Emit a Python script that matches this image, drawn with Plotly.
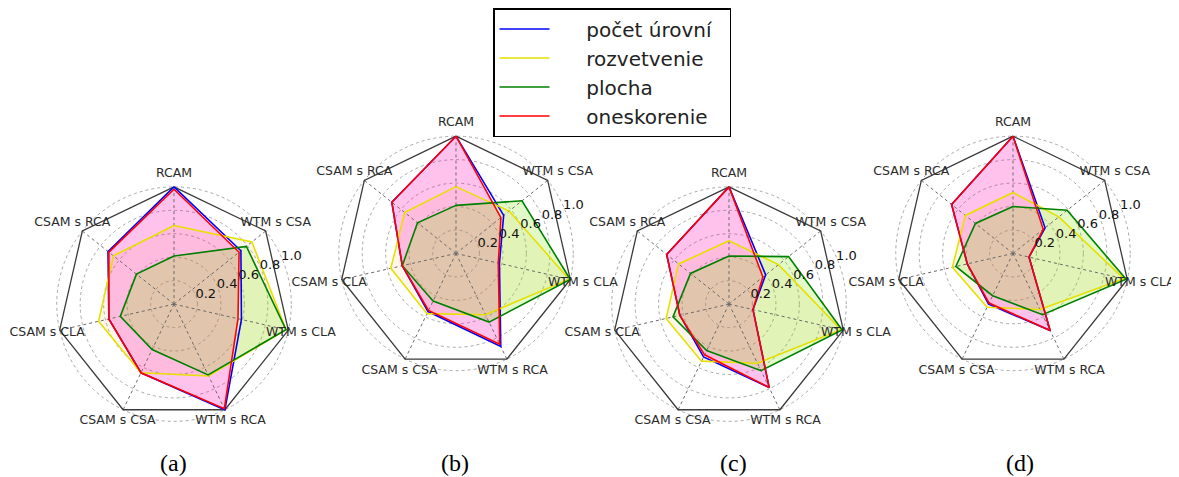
import plotly.graph_objects as go

W, H = 1179, 477
OFF = 8  # page body margin of the html page
FW, FH = W - OFF, H - OFF

categories = ["RCAM", "WTM s CSA", "WTM s CLA", "WTM s RCA", "CSAM s CSA", "CSAM s CLA", "CSAM s RCA"]
series_names = ["počet úrovní", "rozvetvenie", "plocha", "oneskorenie"]
panel_labels = ["(a)", "(b)", "(c)", "(d)"]
radial_ticks = [0.2, 0.4, 0.6, 0.8, 1.0]
radial_ticktext = ["0.2", "0.4", "0.6", "0.8", "1.0"]

# values per panel, order of categories above
a_pocet = [1.00, 0.73, 0.59, 1.00, 0.65, 0.57, 0.72]
a_rozv = [0.67, 0.85, 0.98, 0.68, 0.65, 0.66, 0.66]
a_plocha = [0.41, 0.79, 0.98, 0.67, 0.43, 0.47, 0.41]
a_onesk = [0.98, 0.71, 0.56, 0.99, 0.65, 0.57, 0.71]

b_pocet = [1.00, 0.52, 0.38, 0.88, 0.55, 0.47, 0.70]
b_rozv = [0.57, 0.58, 0.99, 0.58, 0.57, 0.57, 0.56]
b_plocha = [0.41, 0.72, 1.00, 0.65, 0.45, 0.47, 0.42]
b_onesk = [1.00, 0.49, 0.37, 0.86, 0.54, 0.47, 0.70]

c_pocet = [1.00, 0.40, 0.21, 0.79, 0.50, 0.43, 0.68]
c_rozv = [0.54, 0.54, 0.98, 0.56, 0.54, 0.55, 0.55]
c_plocha = [0.41, 0.65, 0.99, 0.63, 0.44, 0.49, 0.42]
c_onesk = [1.00, 0.37, 0.21, 0.79, 0.48, 0.43, 0.68]

d_pocet = [1.00, 0.35, 0.14, 0.73, 0.48, 0.40, 0.67]
d_rozv = [0.52, 0.50, 0.97, 0.53, 0.51, 0.53, 0.52]
d_plocha = [0.40, 0.59, 0.99, 0.58, 0.40, 0.50, 0.41]
d_onesk = [1.00, 0.33, 0.14, 0.73, 0.47, 0.40, 0.67]

panels = [
    [a_pocet, a_rozv, a_plocha, a_onesk],
    [b_pocet, b_rozv, b_plocha, b_onesk],
    [c_pocet, c_rozv, c_plocha, c_onesk],
    [d_pocet, d_rozv, d_plocha, d_onesk],
]

RMAX = 1.0
LABEL_R = 1.11
RLABEL_ANGLE = 24  # degrees, direction of radial tick labels

line_colors = ["#0000ff", "#e6e000", "#008000", "#ff0000"]
fill_colors = [None, "rgba(255,170,60,0.10)", "rgba(120,230,0,0.22)", "rgba(255,0,180,0.24)"]
fill_order = [1, 3, 2]  # yellow bottom, red, green on top

# panel centres / radius (screen pixels, layout only)
centres = [(174, 303), (456, 252), (729, 303), (1013, 252)]
label_x = [173, 455, 733, 1020]
R = 118
RO = R * LABEL_R / RMAX

fig = go.Figure()

def closed(v):
    return list(v) + [v[0]]

cats_closed = closed(categories)

for p, (vals, (cx, cy)) in enumerate(zip(panels, centres)):
    sub = "polar" if p == 0 else f"polar{p+1}"
    sub_lbl = f"polar{p+5}"
    fx, fy = cx - OFF, cy - OFF
    dom = dict(x=[(fx - RO) / FW, (fx + RO) / FW],
               y=[(FH - fy - RO) / FH, (FH - fy + RO) / FH])
    # fills
    for k in fill_order:
        fig.add_trace(go.Scatterpolar(
            r=closed(vals[k]), theta=cats_closed, mode="lines",
            line=dict(width=0, color="rgba(0,0,0,0)"),
            fill="toself", fillcolor=fill_colors[k],
            showlegend=False, hoverinfo="skip", subplot=sub))
    # spokes (angular grid up to the frame)
    for c in categories:
        fig.add_trace(go.Scatterpolar(
            r=[0, RMAX], theta=[c, c], mode="lines",
            line=dict(color="#6a6a6a", width=1, dash="dot"),
            showlegend=False, hoverinfo="skip", subplot=sub))
    # heptagon frame
    fig.add_trace(go.Scatterpolar(
        r=closed([RMAX] * len(categories)), theta=cats_closed, mode="lines",
        line=dict(color="#3a3a3a", width=1.3),
        showlegend=False, hoverinfo="skip", subplot=sub))
    # lines
    for k in range(4):
        fig.add_trace(go.Scatterpolar(
            r=closed(vals[k]), theta=cats_closed, mode="lines",
            line=dict(color=line_colors[k], width=1.6),
            name="\u00a0\u00a0\u00a0\u00a0\u00a0" + series_names[k] + "\u00a0\u00a0",
            legendgroup=series_names[k],
            showlegend=(p == 0), subplot=sub))
    # category labels placed through the polar scale
    fig.add_trace(go.Scatterpolar(
        r=[LABEL_R] * len(categories), theta=categories, mode="text",
        text=categories, textposition="middle center",
        textfont=dict(family="DejaVu Sans", size=12.5, color="#2b2b2b"),
        showlegend=False, hoverinfo="skip", subplot=sub))
    # radial tick labels on an overlaid polar with a linear angular axis
    fig.add_trace(go.Scatterpolar(
        r=radial_ticks, theta=[RLABEL_ANGLE] * len(radial_ticks), mode="text",
        text=radial_ticktext, textposition="middle right",
        textfont=dict(family="DejaVu Sans", size=13, color="#111111"),
        showlegend=False, hoverinfo="skip", subplot=sub_lbl))

    polar = dict(
        domain=dom,
        bgcolor="rgba(0,0,0,0)",
        angularaxis=dict(type="category", categoryarray=categories,
                         rotation=90, direction="clockwise",
                         showticklabels=False, ticks="", showline=False,
                         showgrid=False),
        radialaxis=dict(range=[0, LABEL_R], tickvals=radial_ticks,
                        showline=False, ticks="", showticklabels=False,
                        gridcolor="#a8a8a8", griddash="dot", gridwidth=1),
    )
    polar_lbl = dict(
        domain=dom,
        bgcolor="rgba(0,0,0,0)",
        angularaxis=dict(type="linear", rotation=0, direction="counterclockwise",
                         visible=False, showgrid=False),
        radialaxis=dict(range=[0, LABEL_R], visible=False, showgrid=False),
    )
    fig.update_layout(**{sub: polar, sub_lbl: polar_lbl})
    fig.add_annotation(text=panel_labels[p], x=(label_x[p] - OFF) / FW, y=(FH - (463 - OFF)) / FH,
                       xref="paper", yref="paper", xanchor="center", yanchor="middle",
                       showarrow=False,
                       font=dict(family="Liberation Serif", size=24, color="#000000"))

fig.update_layout(
    width=FW, height=FH,
    margin=dict(l=0, r=0, t=0, b=0),
    paper_bgcolor="white", plot_bgcolor="white",
    showlegend=True,
    legend=dict(x=(493 - OFF) / FW, y=1 - (5 - OFF) / FH, xanchor="left", yanchor="top",
                bordercolor="#000000", borderwidth=1.5, bgcolor="white",
                font=dict(family="DejaVu Sans", size=20, color="#222222"),
                itemwidth=50, tracegroupgap=0),
)

fig.write_html("out.html")
